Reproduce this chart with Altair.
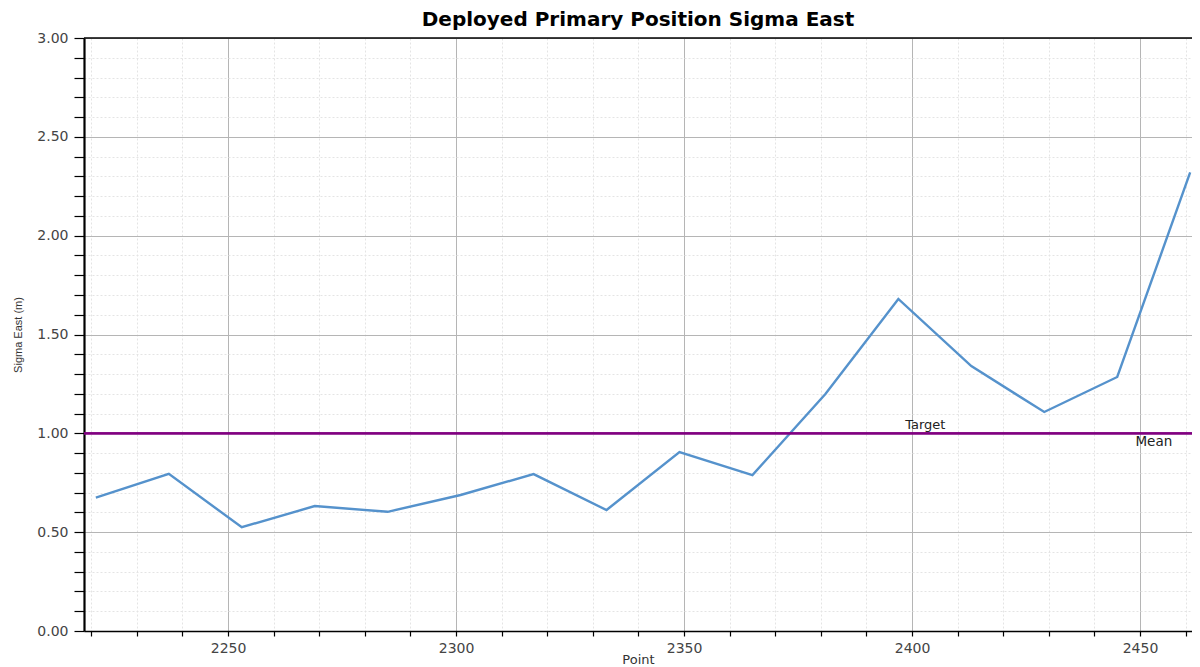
import altair as alt
import pandas as pd

# ---- data ----
points = [2221, 2237, 2253, 2269, 2285, 2301, 2317, 2333, 2349, 2365, 2381, 2397, 2413, 2429, 2445, 2461]
sigma_east = [0.675, 0.795, 0.525, 0.632, 0.603, 0.688, 0.794, 0.612, 0.905, 0.789, 1.199, 1.680, 1.340, 1.108, 1.285, 2.320]

target_value = 1.0
mean_value = 1.0
ann_labels = ["Target", "Mean"]
ann_x = [2398.5, 2449.0]

x_ticks = list(range(2220, 2461, 10))
y_ticks = [round(i * 0.1, 1) for i in range(0, 31)]

W, H = 1108, 593
x_domain = [2218.4, 2461.4]

df = pd.DataFrame({"Point": points, "Sigma": sigma_east})

major_x = "datum.value % 50 === 0"
major_y = "abs(datum.value*2 - round(datum.value*2)) < 0.001"
FONT = "DejaVu Sans"

x_axis = alt.Axis(
    title="Point", values=x_ticks,
    labelExpr=f"{major_x} ? '' + datum.value : ''",
    labelOverlap=False, labelFontSize=14, labelColor="#444444", labelFont=FONT,
    labelPadding=5,
    titleFontSize=13, titleFont=FONT, titleFontWeight="normal", titleColor="#333333",
    titlePadding=-2,
    tickSize=5, tickColor="#000000", tickWidth=1.2,
    domainColor="#000000", domainWidth=1.5,
    grid=True,
    gridColor={"condition": {"test": major_x, "value": "#b5b5b5"}, "value": "#e4e4e4"},
    gridDash={"condition": {"test": major_x, "value": []}, "value": [2, 2]},
    gridWidth=1,
)

y_axis = alt.Axis(
    title="Sigma East (m)", values=y_ticks,
    labelExpr=f"{major_y} ? format(datum.value, '.2f') : ''",
    labelOverlap=False, labelFontSize=14, labelColor="#444444", labelFont=FONT,
    labelPadding=6,
    titleFontSize=11, titleFont="Liberation Sans", titleFontWeight="normal", titleColor="#333333",
    titlePadding=13,
    tickSize=10, tickColor="#000000", tickWidth=1.2,
    domainColor="#000000", domainWidth=2.2,
    grid=True,
    gridColor={"condition": {"test": major_y, "value": "#b5b5b5"}, "value": "#e4e4e4"},
    gridDash={"condition": {"test": major_y, "value": []}, "value": [2, 2]},
    gridWidth=1,
)

x_scale = alt.Scale(domain=x_domain, nice=False, zero=False)
y_scale = alt.Scale(domain=[0, 3], nice=False)

line = alt.Chart(df).mark_line(color="#5592cc", strokeWidth=2.4, clip=True).encode(
    x=alt.X("Point:Q", scale=x_scale, axis=x_axis),
    y=alt.Y("Sigma:Q", scale=y_scale, axis=y_axis),
)

ref_df = pd.DataFrame({"v": [target_value, mean_value]})
rules = alt.Chart(ref_df).mark_rule(color="#800080", strokeWidth=2.4).encode(
    y=alt.Y("v:Q", scale=y_scale, axis=y_axis))

top_border = alt.Chart(pd.DataFrame({"t": [3.0]})).mark_rule(color="#000000", strokeWidth=1.5).encode(
    y=alt.Y("t:Q", scale=y_scale, axis=y_axis))

target_text = alt.Chart(pd.DataFrame({"x": [ann_x[0]], "y": [target_value], "l": [ann_labels[0]]})).mark_text(
    align="left", baseline="bottom", dy=-1, fontSize=13, font=FONT, color="#222222"
).encode(x=alt.X("x:Q", scale=x_scale, axis=x_axis), y=alt.Y("y:Q", scale=y_scale, axis=y_axis), text="l:N")

mean_text = alt.Chart(pd.DataFrame({"x": [ann_x[1]], "y": [mean_value], "l": [ann_labels[1]]})).mark_text(
    align="left", baseline="top", dy=2, fontSize=13.5, font=FONT, color="#222222"
).encode(x=alt.X("x:Q", scale=x_scale, axis=x_axis), y=alt.Y("y:Q", scale=y_scale, axis=y_axis), text="l:N")

chart = alt.layer(line, rules, top_border, target_text, mean_text).properties(
    width=W, height=H,
    title=alt.TitleParams("Deployed Primary Position Sigma East", fontSize=20, font=FONT,
                          fontWeight="bold", color="#000000", offset=1, anchor="middle", frame="group"),
    autosize=alt.AutoSizeParams(type="none"),
    padding={"left": 76, "top": 30, "right": 0, "bottom": 36},
).configure_view(stroke=None)

chart.save("out.html", embed_options={"renderer": "svg", "actions": False})
